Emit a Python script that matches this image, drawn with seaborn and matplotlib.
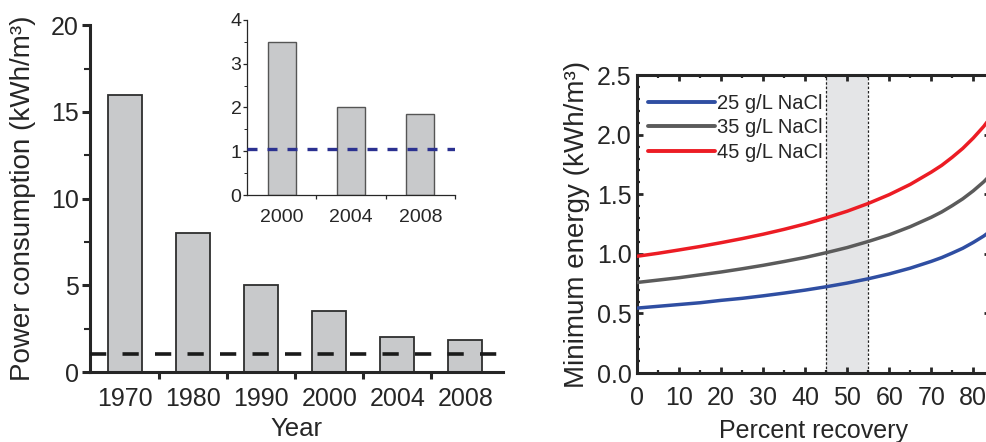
import numpy as np
import pandas as pd
import seaborn as sns
import matplotlib.pyplot as plt
from matplotlib.ticker import MultipleLocator, FixedLocator

# Datos del panel izquierdo (consumo energetico por año)
years = ['1970', '1980', '1990', '2000', '2004', '2008']
power = [16.0, 8.0, 5.0, 3.5, 2.0, 1.85]
inset_years = ['2000', '2004', '2008']
inset_power = [3.5, 2.0, 1.85]
min_limit = 1.05

# Datos del panel derecho (energia minima vs recuperacion)
recovery = [0, 5, 10, 15, 20, 25, 30, 35, 40, 45, 50, 55, 60, 65, 70, 72.5, 75,
            77.5, 80, 82.5, 85]
nacl_25 = [0.545, 0.56, 0.575, 0.59, 0.61, 0.627, 0.648, 0.671, 0.696, 0.724, 0.755,
           0.791, 0.832, 0.88, 0.937, 0.969, 1.007, 1.047, 1.096, 1.15, 1.215]
nacl_35 = [0.76, 0.78, 0.80, 0.824, 0.848, 0.875, 0.904, 0.936, 0.97, 1.01, 1.053,
           1.104, 1.16, 1.228, 1.307, 1.352, 1.405, 1.462, 1.529, 1.605, 1.696]
nacl_45 = [0.98, 1.005, 1.033, 1.062, 1.094, 1.128, 1.165, 1.206, 1.251, 1.302, 1.358,
           1.423, 1.497, 1.583, 1.686, 1.743, 1.811, 1.885, 1.972, 2.07, 2.187]
series_labels = ['25 g/L NaCl', '35 g/L NaCl', '45 g/L NaCl']
band = (45, 55)

sns.set_style('ticks')
plt.rcParams['font.family'] = ['Liberation Sans', 'DejaVu Sans']

fig = plt.figure(figsize=(9.87, 4.42), dpi=100)

# --- Panel izquierdo ---
ax1 = fig.add_axes([0.0912, 0.158, 0.418, 0.785])
df_bar = pd.DataFrame({'Year': years, 'Power': power})
sns.barplot(data=df_bar, x='Year', y='Power', ax=ax1, color='#c8c9cb',
            width=0.5, edgecolor='#2e2e2e', linewidth=1.3, saturation=1)
ax1.axhline(min_limit, color='#1a1a1a', lw=2.6, dashes=(4.5, 4.5), zorder=5)
ax1.set_xlim(-0.52, 5.55)
ax1.set_ylim(0, 20)
sns.despine(ax=ax1)
for s in ['left', 'bottom']:
    ax1.spines[s].set_linewidth(2.2)
ax1.yaxis.set_major_locator(MultipleLocator(5))
ax1.yaxis.set_minor_locator(MultipleLocator(2.5))
ax1.xaxis.set_minor_locator(FixedLocator([0.5, 1.5, 2.5, 3.5, 4.5]))
ax1.tick_params(axis='x', which='major', length=0, pad=11, labelsize=18)
ax1.tick_params(axis='x', which='minor', length=5, width=2.2, direction='out')
ax1.tick_params(axis='y', which='major', length=6, width=2.2, direction='out', labelsize=18, pad=2)
ax1.tick_params(axis='y', which='minor', length=4, width=1.5, direction='out')
ax1.set_xlabel('Year', fontsize=18.5, labelpad=4)
ax1.set_ylabel('Power consumption (kWh/m³)', fontsize=20, labelpad=11)

# --- Recuadro ---
ax_in = fig.add_axes([0.2503, 0.5588, 0.2107, 0.396])
df_in = pd.DataFrame({'Year': inset_years, 'Power': inset_power})
sns.barplot(data=df_in, x='Year', y='Power', ax=ax_in, color='#c8c9cb',
            width=0.4, edgecolor='#555555', linewidth=1.0, saturation=1)
ax_in.axhline(min_limit, color='#2b3190', lw=2.4, dashes=(3, 3), zorder=5)
ax_in.set_xlim(-0.5, 2.5)
ax_in.set_ylim(0, 4)
ax_in.patch.set_alpha(0)
sns.despine(ax=ax_in)
for s in ['left', 'bottom']:
    ax_in.spines[s].set_linewidth(0.9)
ax_in.yaxis.set_major_locator(MultipleLocator(1))
ax_in.yaxis.set_minor_locator(MultipleLocator(0.5))
ax_in.xaxis.set_minor_locator(FixedLocator([0.5, 1.5, 2.5]))
ax_in.tick_params(axis='x', which='major', length=0, pad=10, labelsize=14)
ax_in.tick_params(axis='x', which='minor', length=3, width=0.9, direction='out')
ax_in.tick_params(axis='y', which='major', length=3, width=0.9, direction='out', labelsize=14, pad=1)
ax_in.tick_params(axis='y', which='minor', length=2, width=0.7, direction='out')
ax_in.set_xlabel('')
ax_in.set_ylabel('')

# --- Panel derecho ---
ax2 = fig.add_axes([0.6454, 0.156, 0.3577, 0.674])
df_lines = pd.DataFrame({
    'recovery': recovery * 3,
    'energy': nacl_25 + nacl_35 + nacl_45,
    'conc': [series_labels[0]] * len(recovery) + [series_labels[1]] * len(recovery)
            + [series_labels[2]] * len(recovery),
})
ax2.axvspan(band[0], band[1], color='#e4e5e7', lw=0, zorder=0)
for xv in band:
    ax2.axvline(xv, color='#222222', lw=0.9, dashes=(2, 1.5), zorder=1)
sns.lineplot(data=df_lines, x='recovery', y='energy', hue='conc', ax=ax2,
             palette=['#2f4ea2', '#5b5b5b', '#ec1c24'], linewidth=2.5, zorder=3)
ax2.set_xlim(0, 84)
ax2.set_ylim(0, 2.5)
for s in ax2.spines.values():
    s.set_linewidth(2.2)
ax2.xaxis.set_major_locator(MultipleLocator(10))
ax2.xaxis.set_minor_locator(MultipleLocator(5))
ax2.yaxis.set_major_locator(MultipleLocator(0.5))
ax2.yaxis.set_minor_locator(MultipleLocator(0.1))
ax2.yaxis.set_major_formatter(plt.FormatStrFormatter('%.1f'))
ax2.tick_params(which='major', direction='in', length=4, width=2, top=True, right=True,
                labelsize=18)
ax2.tick_params(which='minor', direction='in', length=2.5, width=1.6, top=True, right=True)
ax2.tick_params(axis='x', pad=9)
ax2.tick_params(axis='y', pad=4)
ax2.set_xlabel('Percent recovery', fontsize=18, labelpad=7)
ax2.set_ylabel('Minimum energy (kWh/m³)', fontsize=20, labelpad=5)
leg = ax2.legend(loc='upper left', frameon=False, fontsize=14.5, handlelength=3.3,
                 handletextpad=0.1, labelspacing=0.28, borderaxespad=0.15,
                 bbox_to_anchor=(0.0, 0.975))
for line in leg.get_lines():
    line.set_linewidth(2.8)

fig.savefig('out.png', dpi=100)
